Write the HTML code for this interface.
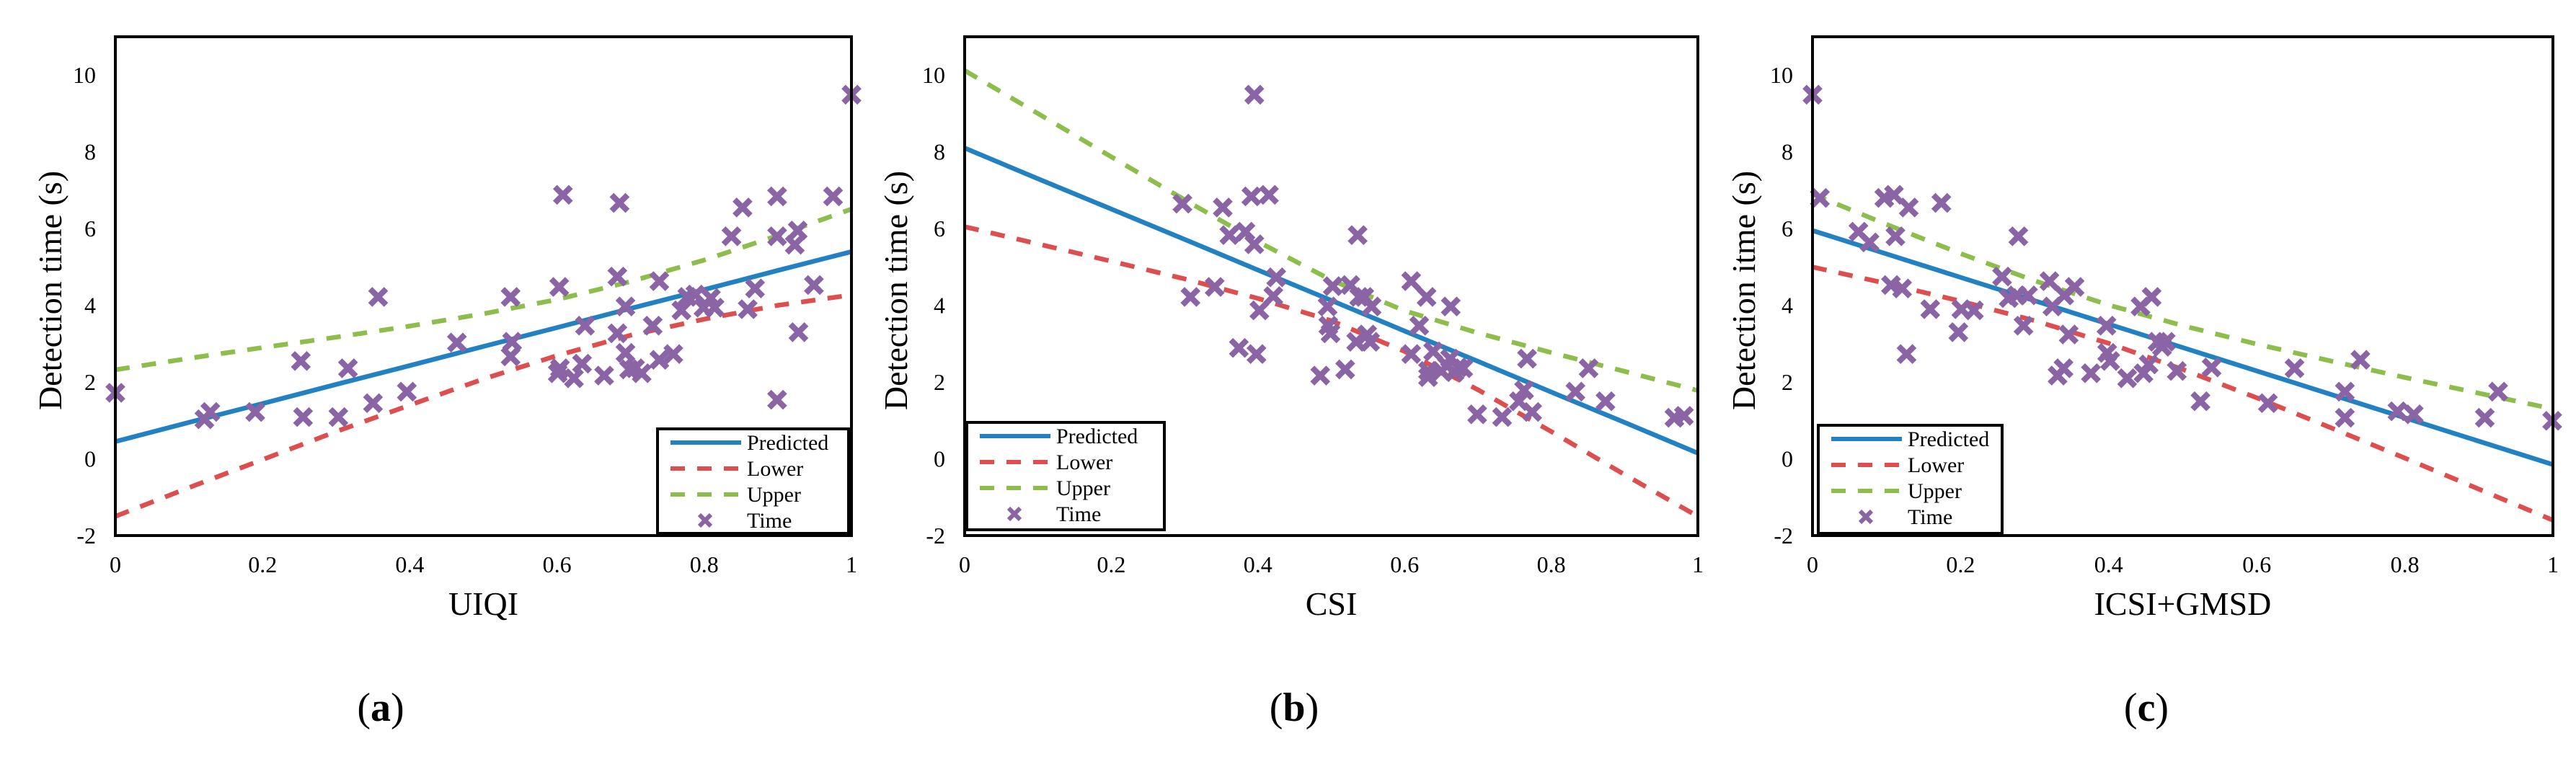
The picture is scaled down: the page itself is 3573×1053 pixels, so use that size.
<!DOCTYPE html>
<html><head><meta charset="utf-8"><style>
html,body{margin:0;padding:0;background:#fff;}
svg{display:block;font-family:"Liberation Serif",serif;}
</style></head><body>
<svg id="fig" width="3573" height="1053" viewBox="0 0 3573 1053"></svg>
<script>
const xTicks=[0,0.2,0.4,0.6,0.8,1];
const xTickLabels=["0","0.2","0.4","0.6","0.8","1"];
const yTicks=[-2,0,2,4,6,8,10];
const yTickLabels=["-2","0","2","4","6","8","10"];
const lineX=[0,0.1,0.2,0.3,0.4,0.5,0.6,0.7,0.8,0.9,1];
const aPred=[0.45,0.95,1.44,1.94,2.43,2.93,3.42,3.92,4.41,4.91,5.40];
const aLower=[-1.5,-0.75,-0.02,0.71,1.40,2.08,2.69,3.22,3.64,4.0,4.27];
const aUpper=[2.32,2.62,2.9,3.17,3.46,3.78,4.15,4.62,5.18,5.82,6.51];
const aX=[0,.121,.129,.19,.252,.255,.303,.316,.35,.357,.396,.464,.537,.537,.539,.603,.601,.608,.604,.623,.634,.638,.664,.682,.685,.682,.693,.693,.698,.706,.715,.73,.739,.739,.758,.769,.777,.788,.799,.809,.814,.837,.852,.859,.869,.899,.899,.899,.923,.927,.928,.949,.975,1];
const aY=[1.72,1.03,1.22,1.22,2.55,1.09,1.09,2.36,1.45,4.22,1.75,3.03,4.22,2.67,3.05,4.48,2.23,6.88,2.36,2.1,2.48,3.47,2.17,4.75,6.67,3.27,3.97,2.76,2.33,2.36,2.23,3.47,4.63,2.58,2.73,3.87,4.22,4.28,3.94,4.19,3.94,5.8,6.55,3.9,4.44,6.84,1.54,5.8,5.58,5.95,3.3,4.53,6.84,9.49];
const bPred=[8.1,7.3,6.51,5.72,4.92,4.13,3.33,2.54,1.74,0.95,0.15];
const bLower=[6.05,5.6,5.15,4.69,4.18,3.6,2.8,1.8,0.71,-0.41,-1.5];
const bUpper=[10.12,9.0,7.87,6.75,5.66,4.66,3.86,3.28,2.77,2.28,1.78];
const bX=[.297,.308,.341,.352,.361,.374,.383,.391,.395,.395,.398,.402,.415,.421,.425,.485,.495,.496,.499,.502,.519,.526,.536,.538,.534,.545,.549,.553,.555,.609,.609,.62,.63,.632,.632,.639,.65,.658,.662,.663,.668,.673,.68,.699,.733,.756,.763,.767,.774,.833,.851,.874,.968,.981];
const bY=[6.65,4.22,4.48,6.55,5.83,2.89,5.92,6.84,9.49,5.59,2.73,3.87,6.88,4.24,4.73,2.17,3.97,3.47,3.27,4.5,2.33,4.53,5.83,4.22,3.05,4.22,3.24,3.05,3.97,4.63,2.73,3.47,4.22,2.13,2.29,2.8,2.29,2.42,2.61,3.97,2.26,2.38,2.36,1.16,1.09,1.5,1.79,2.61,1.22,1.75,2.36,1.5,1.07,1.12];
const cPred=[5.95,5.34,4.73,4.12,3.51,2.9,2.29,1.68,1.07,0.46,-0.15];
const cLower=[5.0,4.57,4.11,3.6,3.01,2.33,1.59,0.81,0.02,-0.79,-1.6];
const cUpper=[6.9,6.11,5.35,4.64,4.01,3.47,2.99,2.55,2.12,1.71,1.3];
const cX=[0,.01,.062,.077,.097,.11,.112,.13,.106,.121,.127,.159,.174,.197,.201,.218,.256,.265,.276,.278,.285,.291,.32,.324,.331,.339,.34,.346,.354,.376,.397,.398,.402,.425,.443,.447,.454,.458,.466,.472,.477,.492,.524,.539,.615,.651,.719,.719,.74,.79,.812,.908,.926,.999];
const cY=[9.49,6.8,5.92,5.64,6.8,6.88,5.8,6.55,4.53,4.44,2.73,3.9,6.67,3.3,3.9,3.87,4.75,4.19,4.26,5.8,3.47,4.26,4.63,3.97,2.17,2.36,4.26,3.24,4.48,2.23,3.47,2.76,2.55,2.1,3.97,2.23,2.46,4.22,3.05,2.92,3.05,2.29,1.5,2.38,1.45,2.36,1.75,1.07,2.58,1.24,1.16,1.07,1.75,0.99];

const NS="http://www.w3.org/2000/svg";
const svg=document.getElementById('fig');
function mk(tag,attrs,parent){const e=document.createElementNS(NS,tag);for(const k in attrs)e.setAttribute(k,attrs[k]);(parent||svg).appendChild(e);return e;}
const TOP=51,BOT=743,YMIN=-2,YMAX=11;
const BLUE="#2181C3",RED="#DE4E4E",GREEN="#8DBE4B",PURP="#8A64A4";
const DASH='20 17';
function drawX(g,cx,cy,s,w){
  return mk('path',{d:`M${cx-s} ${cy-s}L${cx+s} ${cy+s}M${cx+s} ${cy-s}L${cx-s} ${cy+s}`,stroke:PURP,'stroke-width':w,fill:'none'},g);
}
const panels=[
 {id:'a',L:160,R:1181,xt:'UIQI',yt:'Detection time (s)',lab:'a',ytx:69,labx:528,pred:aPred,lo:aLower,up:aUpper,px:aX,py:aY,leg:[912,595,1177,740]},
 {id:'b',L:1338,R:2355,xt:'CSI',yt:'Detection time (s)',lab:'b',ytx:1242,labx:1795,pred:bPred,lo:bLower,up:bUpper,px:bX,py:bY,leg:[1341,586,1615,735]},
 {id:'c',L:2514,R:3541,xt:'ICSI+GMSD',yt:'Detection itme (s)',lab:'c',ytx:2418,labx:2977,pred:cPred,lo:cLower,up:cUpper,px:cX,py:cY,leg:[2522,590,2777,740]}
];
panels.forEach(P=>{
  const g=mk('g',{});
  
  
  const sx=v=>P.L+(v-0)*(P.R-P.L);
  const sy=v=>BOT-(v-YMIN)/(YMAX-YMIN)*(BOT-TOP);
  xTicks.forEach((t,i)=>{const e=mk('text',{x:sx(t),y:sy(YMIN)+51,'font-size':32,'text-anchor':'middle'},g);e.textContent=xTickLabels[i];
    
    });
  yTicks.forEach((t,i)=>{const e=mk('text',{x:P.L-27,y:sy(t)+11,'font-size':32,'text-anchor':'end'},g);e.textContent=yTickLabels[i];
    
    });
  const clip=mk('clipPath',{id:'clip'+P.id},g);mk('rect',{x:P.L,y:TOP,width:P.R-P.L,height:BOT-TOP},clip);
  const series=[[P.lo,RED,DASH,'lower-line'],[P.up,GREEN,DASH,'upper-line'],[P.pred,BLUE,'','predicted-line']];
  series.forEach(s=>{
    const d=lineX.map((x,i)=>(i?'L':'M')+sx(x).toFixed(1)+' '+sy(s[0][i]).toFixed(1)).join('');
    const a={d:d,stroke:s[1],'stroke-width':6.5,fill:'none','clip-path':`url(#clip${P.id})`};
    if(s[2])a['stroke-dasharray']=s[2];
    const e=mk('path',a,g);
    
    
  });
  P.px.forEach((x,i)=>{const e=drawX(g,sx(x),sy(P.py[i]),11,8);
    
    });
  const fr=mk('rect',{x:P.L,y:TOP,width:P.R-P.L,height:BOT-TOP,fill:'none',stroke:'#000','stroke-width':4},g);
  
  
  const [lx,ly,rx,by]=P.leg;
  const lg=mk('g',{},g);
  
  
  mk('rect',{x:lx,y:ly,width:rx-lx,height:by-ly,fill:'#fff',stroke:'#000','stroke-width':4},lg);
  const names=['Predicted','Lower','Upper','Time'];
  const cols=[BLUE,RED,GREEN];
  names.forEach((n,i)=>{
    const yy=ly+19+i*36;
    if(i<3){const a={x1:lx+18,x2:lx+116,y1:yy,y2:yy,stroke:cols[i],'stroke-width':6};if(i)a['stroke-dasharray']=DASH;mk('line',a,lg);}
    else drawX(lg,lx+66,yy,8,6);
    const t=mk('text',{x:lx+124,y:yy+10,'font-size':30},lg);t.textContent=n;
    
    
  });
  const xt=mk('text',{x:(P.L+P.R)/2,y:853,'font-size':46,'text-anchor':'middle'},g);xt.textContent=P.xt;
  
  
  const yt=mk('text',{x:P.ytx,y:403,'font-size':46,'text-anchor':'middle',transform:`rotate(-90 ${P.ytx} 403)`,dy:16},g);yt.textContent=P.yt;
  
  
  const lb=mk('text',{x:P.labx,y:1000,'font-size':56,'text-anchor':'middle'},g);
  lb.innerHTML='(<tspan font-weight="bold">'+P.lab+'</tspan>)';
  
  
});
</script>
</body></html>
